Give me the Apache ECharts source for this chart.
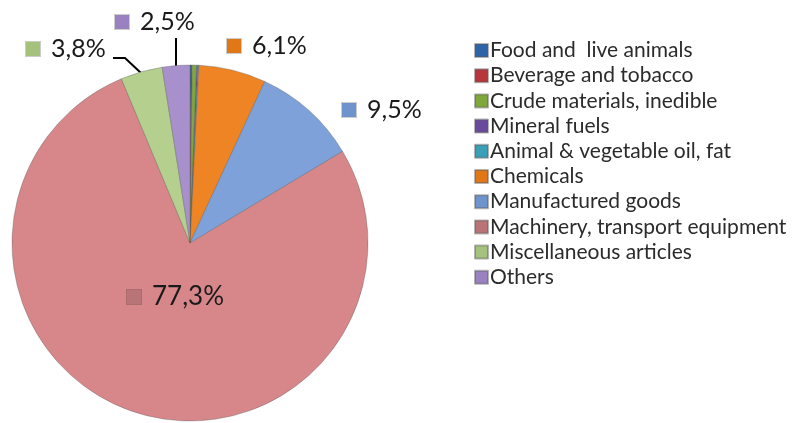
<!DOCTYPE html>
<html><head><meta charset="utf-8">
<script src="https://cdn.jsdelivr.net/npm/echarts@6/dist/echarts.min.js"></script>
<style>html,body{margin:0;padding:0;background:#fff}#c{width:809px;height:423px}</style>
</head><body><div id="c"></div>
<script>
const categories = ['Food and  live animals', 'Beverage and tobacco', 'Crude materials, inedible', 'Mineral fuels', 'Animal & vegetable oil, fat', 'Chemicals', 'Manufactured goods', 'Machinery, transport equipment', 'Miscellaneous articles', 'Others'];
const values = [0.1, 0.1, 0.4, 0.1, 0.1, 6.1, 9.5, 77.3, 3.8, 2.5];
const colors = ['#2E64A8', '#B8353B', '#7FA83A', '#6A4A9A', '#3AA0B8', '#EE8424', '#7DA1D8', '#D7878A', '#B5D08E', '#A890CC'];
const iconColors = ['#2E64A8', '#B8353B', '#7FA83A', '#6A4A9A', '#3AA0B8', '#E07818', '#6F93CC', '#B97477', '#A5C27C', '#9A82C0'];
const labelled = [false, false, false, false, false, true, true, true, true, true];

// label placement (pixel layout, not data)
const labelPos = {
  5: {x: 227, y: 46},
  6: {x: 342, y: 110},
  7: {x: 127, y: 297},
  8: {x: 26, y: 49, line: [[141, 73], [125, 58], [113, 58]]},
  9: {x: 115, y: 22, line: [[176, 66], [176, 38], [176, 38]]}
};

const chart = echarts.init(document.getElementById('c'), null, {renderer: 'canvas'});
const FONT = 'Lato';
const data = categories.map((n, i) => ({
  name: n, value: values[i],
  itemStyle: {color: colors[i]},
  label: {
    show: labelled[i],
    formatter: '{icon|}{t|' + String(values[i]).replace('.', ',') + '%}',
    rich: {
      icon: {width: 14, height: 14, backgroundColor: iconColors[i], borderColor: 'rgba(0,0,0,0.2)', borderWidth: 1},
      t: {fontSize: i === 7 ? 26 : 25, fontFamily: FONT, color: '#1a1a1a', padding: [0, 0, 0, 11]}
    }
  },
  labelLine: {show: i === 8 || i === 9}
}));

chart.setOption({
  animation: false,
  legend: {
    orient: 'vertical', left: 469, top: 35,
    itemWidth: 13, itemHeight: 13, itemGap: 4.2,
    icon: 'rect',
    textStyle: {fontFamily: FONT, fontSize: 21, color: '#2b2b2b', lineHeight: 20, padding: [0, 0, 0, -3]},
    data: categories.map((n, i) => ({name: n, itemStyle: {color: iconColors[i]}}))
  },
  series: [{
    type: 'pie',
    center: [190, 243], radius: 178,
    startAngle: 90, clockwise: true,
    avoidLabelOverlap: false,
    itemStyle: {borderColor: 'rgba(90,90,90,0.45)', borderWidth: 0.8},
    labelLine: {lineStyle: {color: '#000', width: 2}, length: 10, length2: 10},
    labelLayout: function (p) {
      const lp = labelPos[p.dataIndex];
      if (!lp) return {};
      const r = {x: lp.x, y: lp.y, align: 'left', verticalAlign: 'middle'};
      if (lp.line) r.labelLinePoints = lp.line;
      return r;
    },
    emphasis: {disabled: true},
    data: data
  }]
});
</script></body></html>
